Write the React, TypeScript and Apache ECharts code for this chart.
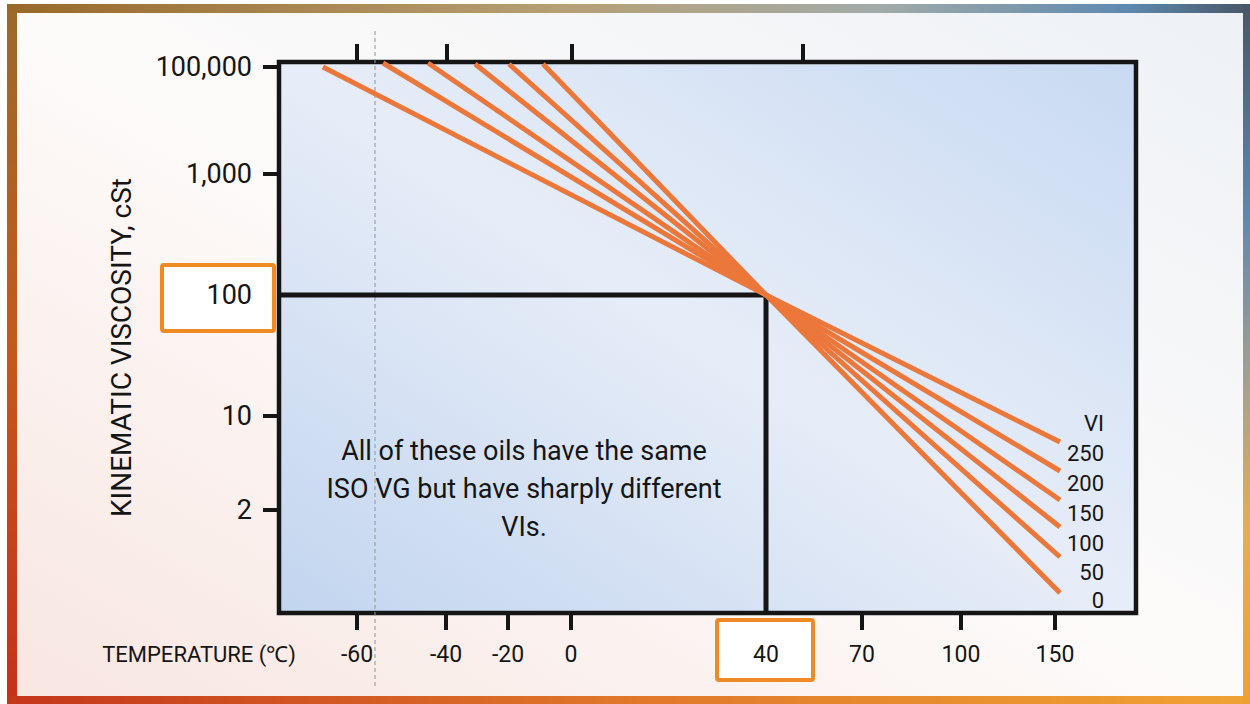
import React, { useEffect, useRef } from "react";
import * as echarts from "echarts";

// ---- Data (schematic chart: positions are in the chart's own scale units) ----
// Temperature axis (bottom): labels and their scale positions
const tempLabels = ["-60", "-40", "-20", "0", "40", "70", "100", "150"];
const tempPos = [78, 167, 229, 292, 487, 583, 682, 776];
// Top axis tick marks (no labels)
const topTickPos = [78, 168, 293, 524];
// Viscosity axis (left): labels and their scale positions
const viscLabels = ["100,000", "1,000", "100", "10", "2"];
const viscPos = [546, 439, 318, 197, 103];
// Highlighted reference values (boxed)
const boxedTemp = "40";
const boxedVisc = "100";
// Viscosity-index lines: start point, common pivot (40 °C, 100 cSt), end point
const viValues = [0, 50, 100, 150, 200, 250];
const viStartX = [264, 230, 196, 149, 104, 44];
const viStartY = [549, 549, 549, 550, 550, 546];
const viEndX = [781, 781, 781, 781, 781, 781];
const viEndY = [20, 56, 86, 113, 142, 171];
const viLabelDy = [7, 15, 16, 13, 12, 11];
// Dashed guide line
const guideX = 96;
const guideYRange = [-73, 583];
const X_MAX = 857;
const Y_MAX = 551;

const noteText = "All of these oils have the same\nISO VG but have sharply different\nVIs.";

const FONT = "Roboto";
const INK = "#151515";
const ORANGE_LINE = "#EC773A";
const ORANGE_BOX = "#F08A24";

function lookup(labels: string[], pos: number[], v: number) {
  for (let i = 0; i < pos.length; i++) if (Math.abs(pos[i] - v) < 0.5) return labels[i];
  return "";
}

export default function App() {
  const ref = useRef<HTMLDivElement>(null);
  useEffect(() => {
    if (!ref.current) return;
    const chart = echarts.init(ref.current, null, { renderer: "svg" });
    const LG = echarts.graphic.LinearGradient;

    const pivotX = tempPos[tempLabels.indexOf(boxedTemp)];
    const pivotY = viscPos[viscLabels.indexOf(boxedVisc)];

    const viSeries = viValues.map((vi, i) => ({
      type: "line",
      name: String(vi),
      data: [
        [viStartX[i], viStartY[i]],
        [pivotX, pivotY],
        [viEndX[i], viEndY[i]],
      ],
      symbol: "none",
      z: 4,
      lineStyle: { color: ORANGE_LINE, width: 5, cap: "butt" },
      endLabel: {
        show: true,
        distance: 6,
        offset: [0, viLabelDy[i]],
        formatter: (p: any) => `{v|${p.seriesName}}`,
        rich: {
          v: { width: 38, align: "right", fontSize: 22, fontFamily: FONT, color: INK },
        },
      },
    }));

    const option: any = {
      animation: false,
      textStyle: { fontFamily: FONT },
      grid: {
        left: 279,
        top: 62,
        width: 857,
        height: 551,
        show: true,
        z: 0,
        borderColor: INK,
        borderWidth: 4.5,
        backgroundColor: new LG(0, 1, 1, 0, [
          { offset: 0, color: "#C2D5EF" },
          { offset: 0.5, color: "#E7EDF8" },
          { offset: 1, color: "#C8DAF2" },
        ]),
      },
      xAxis: [
        {
          type: "value",
          position: "bottom",
          min: 0,
          max: X_MAX,
          z: 5,
          splitLine: { show: false },
          axisLine: { show: false },
          axisTick: {
            show: true,
            inside: false,
            length: 17,
            customValues: tempPos.filter((_, i) => tempLabels[i] !== boxedTemp),
            lineStyle: { color: INK, width: 4 },
          },
          axisLabel: {
            show: true,
            customValues: tempPos,
            margin: 30,
            fontSize: 23,
            color: INK,
            fontFamily: FONT,
            formatter: (v: number) => lookup(tempLabels, tempPos, v),
          },
          name: "TEMPERATURE (℃)",
          nameLocation: "start",
          nameGap: -17,
          nameTextStyle: {
            fontSize: 22,
            color: INK,
            fontFamily: FONT,
            align: "right",
            verticalAlign: "top",
            padding: [30, 0, 0, 0],
          },
        },
        {
          type: "value",
          position: "top",
          min: 0,
          max: X_MAX,
          z: 5,
          splitLine: { show: false },
          axisLine: { show: false },
          axisLabel: { show: false },
          axisTick: {
            show: true,
            inside: false,
            length: 18,
            customValues: topTickPos,
            lineStyle: { color: INK, width: 4 },
          },
        },
      ],
      yAxis: {
        type: "value",
        min: 0,
        max: Y_MAX,
        z: 5,
        splitLine: { show: false },
        axisLine: { show: false },
        axisTick: {
          show: true,
          inside: false,
          length: 16,
          customValues: viscPos.filter((_, i) => viscLabels[i] !== boxedVisc),
          lineStyle: { color: INK, width: 4 },
        },
        axisLabel: {
          show: true,
          customValues: viscPos,
          margin: 27,
          fontSize: 27,
          color: INK,
          fontFamily: FONT,
          formatter: (v: number) => lookup(viscLabels, viscPos, v),
        },
        name: "KINEMATIC VISCOSITY, cSt",
        nameLocation: "middle",
        nameRotate: 90,
        nameGap: 144,
        nameTextStyle: { fontSize: 28, color: INK, fontFamily: FONT, padding: [0, 20, 0, 0] },
      },
      series: [
        {
          type: "line",
          data: [
            [guideX, guideYRange[0]],
            [guideX, guideYRange[1]],
          ],
          clip: false,
          symbol: "none",
          silent: true,
          z: 2,
          lineStyle: { color: "#8E949D", width: 1, type: [4, 3] },
        },
        {
          type: "line",
          data: [
            [0, pivotY],
            [pivotX, pivotY],
            [pivotX, 0],
          ],
          symbol: "none",
          silent: true,
          z: 3,
          lineStyle: { color: INK, width: 5 },
        },
        ...viSeries,
      ],
      graphic: [
        { type: "rect", z: -30, silent: true, shape: { x: 0, y: 0, width: 1250, height: 704 }, style: { fill: "#ffffff" } },
        {
          type: "rect", z: -29, silent: true,
          shape: { x: 7, y: 4, width: 1243, height: 10 },
          style: {
            fill: new LG(0, 0, 1, 0, [
              { offset: 0, color: "#98692A" },
              { offset: 0.45, color: "#B6A077" },
              { offset: 0.7, color: "#A2ABA8" },
              { offset: 0.9, color: "#5E8AB0" },
              { offset: 1, color: "#485767" },
            ]),
          },
        },
        {
          type: "rect", z: -29, silent: true,
          shape: { x: 7, y: 4, width: 10, height: 700 },
          style: {
            fill: new LG(0, 0, 0, 1, [
              { offset: 0, color: "#9A6A2A" },
              { offset: 0.5, color: "#C4581C" },
              { offset: 1, color: "#C6301A" },
            ]),
          },
        },
        {
          type: "rect", z: -29, silent: true,
          shape: { x: 7, y: 696, width: 1243, height: 8 },
          style: {
            fill: new LG(0, 0, 1, 0, [
              { offset: 0, color: "#C4361A" },
              { offset: 0.5, color: "#E0782A" },
              { offset: 1, color: "#F0A334" },
            ]),
          },
        },
        {
          type: "rect", z: -29, silent: true,
          shape: { x: 1243, y: 4, width: 7, height: 700 },
          style: {
            fill: new LG(0, 0, 0, 1, [
              { offset: 0, color: "#485767" },
              { offset: 0.3, color: "#5F88B0" },
              { offset: 0.55, color: "#A8A28E" },
              { offset: 0.75, color: "#E4AE50" },
              { offset: 1, color: "#F0A030" },
            ]),
          },
        },
        {
          type: "rect", z: -28, silent: true,
          shape: { x: 17, y: 13, width: 1226, height: 683 },
          style: {
            fill: new LG(0, 1, 1, 0, [
              { offset: 0, color: "#F8E6E1" },
              { offset: 0.5, color: "#FDFBFA" },
              { offset: 1, color: "#EDF1F6" },
            ]),
          },
        },
        {
          type: "rect", z: 1, silent: true,
          shape: { x: 162, y: 265, width: 112, height: 66, r: 2 },
          style: { fill: "#ffffff", stroke: ORANGE_BOX, lineWidth: 4 },
        },
        {
          type: "rect", z: 1, silent: true,
          shape: { x: 717, y: 620, width: 96, height: 60, r: 2 },
          style: { fill: "#ffffff", stroke: ORANGE_BOX, lineWidth: 4 },
        },
        {
          type: "text", z: 6, silent: true,
          x: 1104, y: 423,
          style: { text: "VI", fontSize: 22, fontFamily: FONT, fill: INK, align: "right", verticalAlign: "middle" },
        },
        {
          type: "text", z: 6, silent: true,
          x: 524, y: 489,
          style: {
            text: noteText, fontSize: 27, fontFamily: FONT, fill: INK,
            align: "center", verticalAlign: "middle", lineHeight: 38,
          },
        },
      ],
    };
    chart.setOption(option);
    return () => chart.dispose();
  }, []);
  return (
    <div
      ref={ref}
      style={{ position: "absolute", left: 0, top: 0, width: 1250, height: 704 }}
    />
  );
}
